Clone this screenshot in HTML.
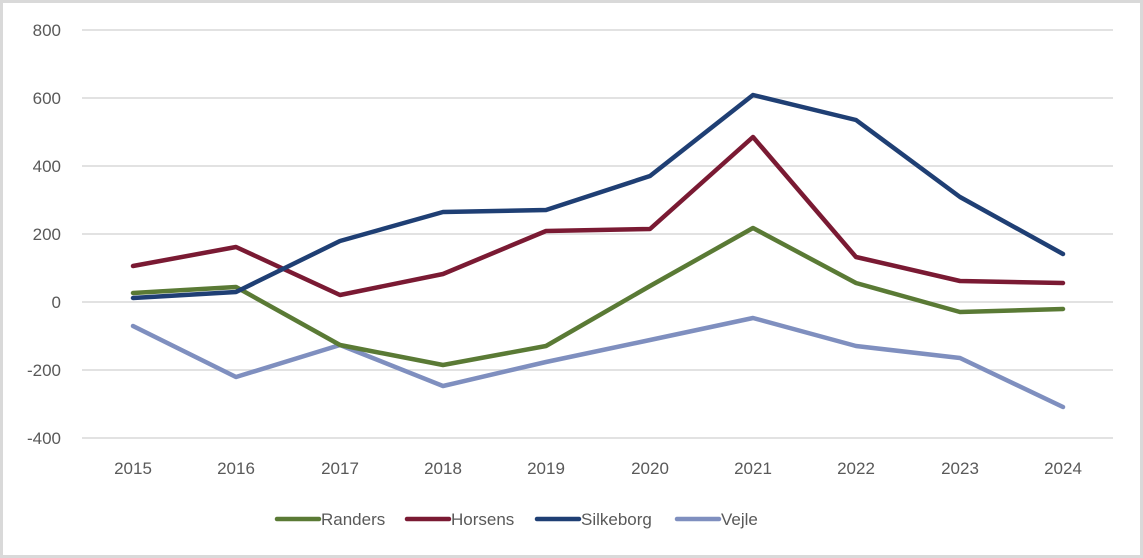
<!DOCTYPE html>
<html><head><style>body{margin:0;background:#fff}svg{display:block}</style></head><body>
<svg width="1143" height="558" xmlns="http://www.w3.org/2000/svg" font-family="Liberation Sans, sans-serif">
<rect x="1.5" y="1.5" width="1140" height="555" fill="#fff" stroke="#d9d9d9" stroke-width="3"/>
<g stroke="#d9d9d9" stroke-width="1.5">
<line x1="82" x2="1113" y1="30" y2="30"/><line x1="82" x2="1113" y1="98" y2="98"/>
<line x1="82" x2="1113" y1="166" y2="166"/><line x1="82" x2="1113" y1="234" y2="234"/>
<line x1="82" x2="1113" y1="302" y2="302"/><line x1="82" x2="1113" y1="370" y2="370"/>
<line x1="82" x2="1113" y1="438" y2="438"/></g>
<g fill="#595959" font-size="17" text-anchor="end">
<text x="61" y="36">800</text><text x="61" y="104">600</text><text x="61" y="172">400</text>
<text x="61" y="240">200</text><text x="61" y="308">0</text><text x="61" y="376">-200</text><text x="61" y="444">-400</text></g>
<g fill="#595959" font-size="17" text-anchor="middle">
<text x="133" y="474">2015</text><text x="236" y="474">2016</text><text x="340" y="474">2017</text>
<text x="443" y="474">2018</text><text x="546" y="474">2019</text><text x="650" y="474">2020</text>
<text x="753" y="474">2021</text><text x="856" y="474">2022</text><text x="960" y="474">2023</text><text x="1063" y="474">2024</text></g>
<g fill="none" stroke-width="4.5" stroke-linejoin="round" stroke-linecap="round">
<polyline stroke="#7f8fbf" points="133,326 236,377 340,345 443,386 546,362 650,340 753,318 856,346 960,358 1063,407"/>
<polyline stroke="#5a7a35" points="133,293 236,287 340,345 443,365 546,346 650,286 753,228 856,283 960,312 1063,309"/>
<polyline stroke="#7a1a33" points="133,266 236,247 340,295 443,274 546,231 650,229 753,137 856,257 960,281 1063,283"/>
<polyline stroke="#1f3f74" points="133,298 236,292 340,241 443,212 546,210 650,176 753,95 856,120 960,197 1063,254"/>
</g>
<g stroke-width="4.5" stroke-linecap="round">
<line x1="277" x2="319" y1="519" y2="519" stroke="#5a7a35"/>
<line x1="407" x2="449" y1="519" y2="519" stroke="#7a1a33"/>
<line x1="537" x2="579" y1="519" y2="519" stroke="#1f3f74"/>
<line x1="677" x2="719" y1="519" y2="519" stroke="#7f8fbf"/></g>
<g fill="#595959" font-size="17">
<text x="321" y="525">Randers</text><text x="451" y="525">Horsens</text>
<text x="581" y="525">Silkeborg</text><text x="721" y="525">Vejle</text></g>
</svg>
</body></html>
